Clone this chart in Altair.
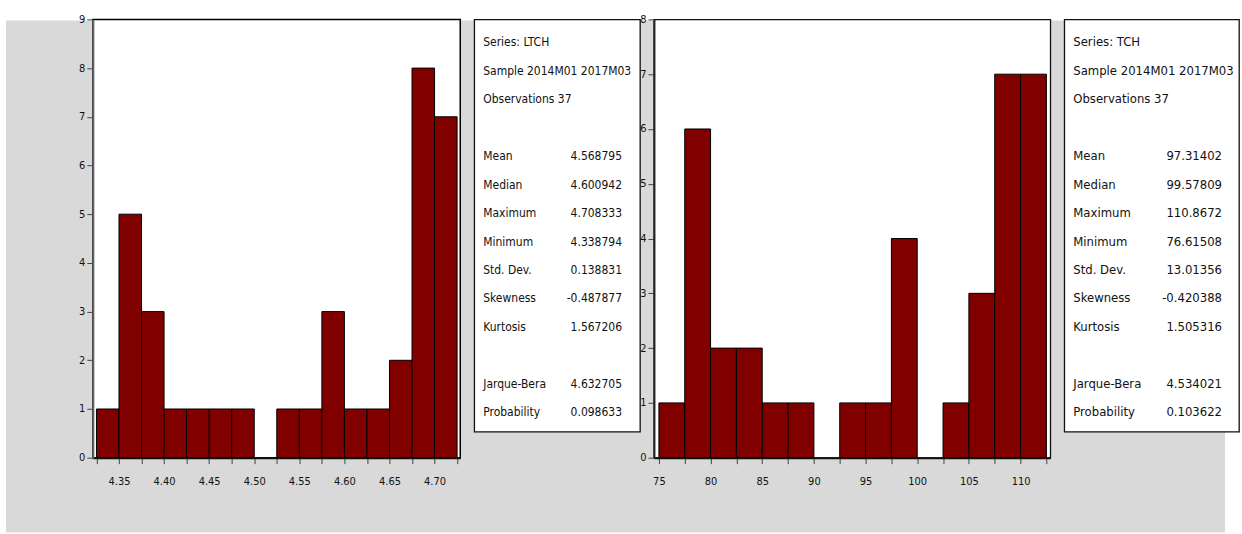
import altair as alt
import pandas as pd

# ---- histogram data: bin edges and counts -------------------------------
ltch_edges = [4.325, 4.350, 4.375, 4.400, 4.425, 4.450, 4.475, 4.500, 4.525,
              4.550, 4.575, 4.600, 4.625, 4.650, 4.675, 4.700, 4.725]
ltch_counts = [1, 5, 3, 1, 1, 1, 1, 0, 1, 1, 3, 1, 1, 2, 8, 7]

tch_edges = [75.0, 77.5, 80.0, 82.5, 85.0, 87.5, 90.0, 92.5, 95.0,
             97.5, 100.0, 102.5, 105.0, 107.5, 110.0, 112.5]
tch_counts = [1, 6, 2, 2, 1, 1, 0, 1, 1, 4, 0, 1, 3, 7, 7]

# ---- descriptive statistics ----------------------------------------------
ltch_header = ["Series: LTCH", "Sample 2014M01 2017M03", "Observations 37"]
tch_header = ["Series: TCH", "Sample 2014M01 2017M03", "Observations 37"]
stat_names = ["Mean", "Median", "Maximum", "Minimum", "Std. Dev.", "Skewness", "Kurtosis"]
test_names = ["Jarque-Bera", "Probability"]
ltch_stats = ["4.568795", "4.600942", "4.708333", "4.338794", "0.138831", "-0.487877", "1.567206"]
ltch_tests = ["4.632705", "0.098633"]
tch_stats = ["97.31402", "99.57809", "110.8672", "76.61508", "13.01356", "-0.420388", "1.505316"]
tch_tests = ["4.534021", "0.103622"]

FONT = "DejaVu Sans Condensed, Liberation Sans, Arial, sans-serif"
BAR = "#800000"
GRAY = "#d9d9d9"


def hist_frame(edges, counts):
    rows = []
    for i, c in enumerate(counts):
        if c > 0:
            rows.append({"lo": edges[i], "hi": edges[i + 1], "count": c})
    return pd.DataFrame(rows)


def stats_frame(header, stats, tests):
    rows = []
    r = 0
    for h in header:
        rows.append({"row": r, "label": h, "value": ""})
        r += 1
    r += 1
    for n, v in zip(stat_names, stats):
        rows.append({"row": r, "label": n, "value": v})
        r += 1
    r += 1
    for n, v in zip(test_names, tests):
        rows.append({"row": r, "label": n, "value": v})
        r += 1
    return pd.DataFrame(rows)


def histogram(edges, counts, xdom, ymax, label_step, fmt, ydomain_color):
    df = hist_frame(edges, counts)
    label_expr = (
        f"abs(datum.value/{label_step} - round(datum.value/{label_step})) < 1e-6"
        f" ? format(datum.value, '{fmt}') : ''"
    )
    x = alt.X(
        "lo:Q",
        scale=alt.Scale(domain=xdom, nice=False, zero=False),
        axis=alt.Axis(
            title=None, values=edges, labelExpr=label_expr, grid=False,
            domainColor="#111", domainWidth=2, tickColor="#444", tickSize=6,
            tickWidth=1, labelPadding=12, labelFont=FONT, labelFontSize=11,
            labelColor="#111", zindex=2,
        ),
    )
    y = alt.Y(
        "count:Q",
        scale=alt.Scale(domain=[0, ymax], nice=False),
        axis=alt.Axis(
            title=None, values=list(range(ymax + 1)), grid=False,
            domainColor=ydomain_color, domainWidth=2, tickColor="#444", tickSize=6,
            tickWidth=1, labelPadding=2, labelFont=FONT, labelFontSize=11,
            labelColor="#111", zindex=2,
        ),
    )
    return (
        alt.Chart(df)
        .mark_rect(fill=BAR, stroke="#000", strokeWidth=1)
        .encode(x=x, x2="hi:Q", y=y, y2=alt.datum(0))
    )


def stats_box(df, value_x, size, w, h):
    yscale = alt.Scale(domain=[-0.807, 13.684], reverse=True, nice=False, zero=False)
    base = alt.Chart(df).encode(y=alt.Y("row:Q", scale=yscale, axis=None))
    labels = base.mark_text(
        align="left", baseline="middle", font=FONT, fontSize=size, color="#111", clip=True
    ).encode(x=alt.value(9), text="label:N")
    values = base.mark_text(
        align="right", baseline="middle", font=FONT, fontSize=size, color="#111", clip=True
    ).encode(x=alt.value(value_x), text="value:N")
    return alt.layer(labels, values).properties(width=w, height=h)


one = alt.Data(values=[{"k": 0}])

# page background, grey panel and the white plotting area of the first graph
page = alt.Chart(one).mark_rect(fill="white").encode(
    x=alt.value(-92), x2=alt.value(1150), y=alt.value(-18), y2=alt.value(516)
)
panel = alt.Chart(one).mark_rect(fill=GRAY).encode(
    x=alt.value(-87), x2=alt.value(1134), y=alt.value(1), y2=alt.value(514)
)
plot_bg = alt.Chart(one).mark_rect(fill="white", stroke="#000", strokeWidth=1.5).encode(
    x=alt.value(0), x2=alt.value("width"), y=alt.value(0), y2=alt.value("height")
)

ltch_bars = histogram(ltch_edges, ltch_counts, [4.321, 4.7285], 9, 0.05, ".2f", "#666")
left_hist = alt.layer(page, panel, plot_bg, ltch_bars).properties(width=368, height=439)

tch_bars = histogram(tch_edges, tch_counts, [74.52, 112.88], 8, 5, "d", "#222")
right_hist = tch_bars.properties(width=397, height=439)

left_box = stats_box(stats_frame(ltch_header, ltch_stats, ltch_tests), 148, 12, 166, 413)
right_box = stats_box(stats_frame(tch_header, tch_stats, tch_tests), 158, 13, 175, 413)

chart = (
    alt.hconcat(left_hist, left_box, right_hist, right_box, spacing=14, bounds="flush")
    .properties(padding=0, background="white")
    .configure_view(fill="white", stroke="#111", strokeWidth=1.3)
)

chart.save("out.html", embed_options={"renderer": "svg", "actions": False})
